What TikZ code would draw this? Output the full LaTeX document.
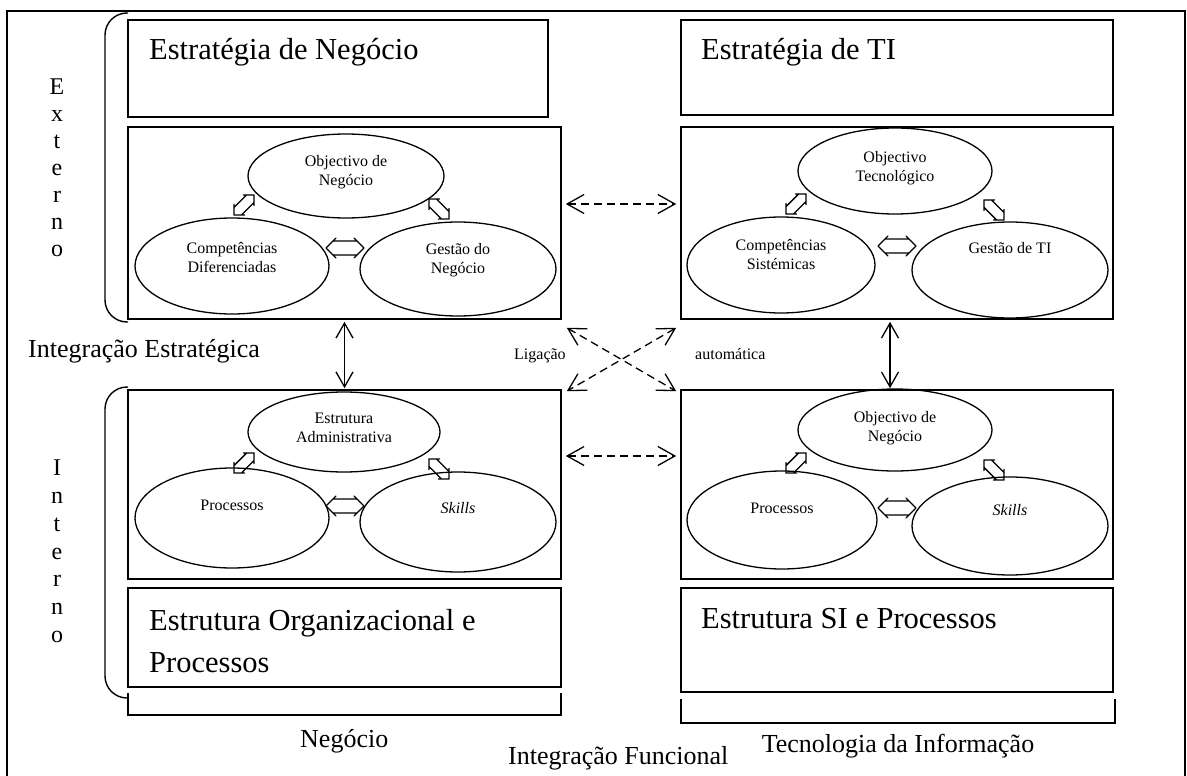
\documentclass[tikz,border=0pt]{standalone}
\usepackage{fontspec}
\setmainfont{Liberation Serif}
\usetikzlibrary{arrows.meta,shapes.geometric}

\tikzset{
  box/.style={draw, line width=1.6pt, inner sep=0pt},
  ell/.style={draw, ellipse, line width=1.3pt, inner sep=0pt},
  elltext/.style={font=\fontsize{16}{19}\selectfont, align=center, inner sep=0pt},
  bigtext/.style={font=\fontsize{30.5}{42}\selectfont, align=left, inner sep=0pt},
  midtext/.style={font=\fontsize{26}{30}\selectfont, inner sep=0pt},
  smalltext/.style={font=\fontsize{16}{19}\selectfont, inner sep=0pt},
  vertext/.style={font=\fontsize{24}{#1}\selectfont, align=center, inner sep=0pt},
  brace/.style={line width=1.4pt, rounded corners=22pt},
  bracket/.style={line width=1.4pt},
  dasharr/.style={line width=1.3pt, dash pattern=on 8pt off 5pt,
    {Straight Barb[length=17pt,width=19pt]}-{Straight Barb[length=17pt,width=19pt]}},
  solidarr/.style={line width=1.3pt,
    {Straight Barb[length=15pt,width=17pt]}-{Straight Barb[length=15pt,width=17pt]}},
  pics/biarrow/.style={code={
    \draw[line width=1.3pt, line cap=round, line join=round]
      (-19,0) -- (-9,-10) (-19,0) -- (-9,10)
      (19,0) -- (9,-10) (19,0) -- (9,10)
      (-12,-7) -- (12,-7) (-12,7) -- (12,7);
  }}
}

\begin{document}
\begin{tikzpicture}[x=1pt,y=-1pt]
\useasboundingbox (0,0) rectangle (1187,776);

% outer frame
\draw[line width=1.5pt] (7,776) -- (7,11) -- (1185,11) -- (1185,776);

% boxes, left column
\node[box, minimum width=420pt, minimum height=97pt]  (tL) at (338,68.5) {};
\node[box, minimum width=433pt, minimum height=192pt] (mL) at (344.5,223) {};
\node[box, minimum width=433pt, minimum height=189pt] (lL) at (344.5,484.5) {};
\node[box, minimum width=433pt, minimum height=99pt]  (bL) at (344.5,637.5) {};
% boxes, right column
\node[box, minimum width=432pt, minimum height=95pt]  (tR) at (897,67.5) {};
\node[box, minimum width=432pt, minimum height=192pt] (mR) at (897,223) {};
\node[box, minimum width=432pt, minimum height=189pt] (lR) at (897,484.5) {};
\node[box, minimum width=432pt, minimum height=104pt] (bR) at (897,640) {};

% box titles
\node[bigtext, anchor=base west] (tLt) at (149,60) {Estratégia de Negócio};
\node[bigtext, anchor=base west] (tRt) at (701,60) {Estratégia de TI};
\node[bigtext, anchor=north west] (bLt) at (149,609) {Estrutura Organizacional e\\Processos};
\node[bigtext, anchor=base west] (bRt) at (701,628) {Estrutura SI e Processos};

% ellipses: business strategy
\node[ell, minimum width=196pt, minimum height=84pt] (on1) at (346,176) {};
\node[ell, minimum width=194pt, minimum height=96pt] (cd)  at (232,266) {};
\node[ell, minimum width=196pt, minimum height=94pt] (gn)  at (458,269) {};
\node[elltext] (on1t) at ([yshift=4pt]on1.center) {Objectivo de\\Negócio};
\node[elltext] (cdt)  at ([yshift=8pt]cd.center) {Competências\\Diferenciadas};
\node[elltext] (gnt)  at ([yshift=9pt]gn.center) {Gestão do\\Negócio};

% ellipses: IT strategy
\node[ell, minimum width=194pt, minimum height=86pt] (ot)  at (895,171) {};
\node[ell, minimum width=188pt, minimum height=96pt] (cs)  at (781,265) {};
\node[ell, minimum width=196pt, minimum height=96pt] (gti) at (1010,270) {};
\node[elltext] (ott)  at ([yshift=3pt]ot.center) {Objectivo\\Tecnológico};
\node[elltext] (cst)  at ([yshift=10pt]cs.center) {Competências\\Sistémicas};
\node[elltext] (gtit) at ([yshift=22pt]gti.center) {Gestão de TI};

% ellipses: organisational structure
\node[ell, minimum width=192pt, minimum height=80pt]  (ea) at (344,432) {};
\node[ell, minimum width=194pt, minimum height=100pt] (p1) at (232,518) {};
\node[ell, minimum width=196pt, minimum height=100pt] (s1) at (458,522) {};
\node[elltext] (eat) at ([yshift=4pt]ea.center) {Estrutura\\Administrativa};
\node[elltext] (p1t) at ([yshift=13pt]p1.center) {Processos};
\node[elltext, font=\fontsize{16}{19}\selectfont\itshape] (s1t) at ([yshift=14pt]s1.center) {Skills};

% ellipses: IS structure
\node[ell, minimum width=194pt, minimum height=82pt] (on2) at (895,430) {};
\node[ell, minimum width=190pt, minimum height=98pt] (p2)  at (782,520) {};
\node[ell, minimum width=196pt, minimum height=98pt] (s2)  at (1010,526) {};
\node[elltext] (on2t) at ([yshift=2pt]on2.center) {Objectivo de\\Negócio};
\node[elltext] (p2t)  at ([yshift=12pt]p2.center) {Processos};
\node[elltext, font=\fontsize{16}{19}\selectfont\itshape] (s2t) at ([yshift=16pt]s2.center) {Skills};

% small two-way arrows between the ellipses
\pic at (345,248) {biarrow};
\pic at (897,246) {biarrow};
\pic at (345,506) {biarrow};
\pic at (897,508) {biarrow};
\pic[rotate=45, scale=0.75]  at (244,205) {biarrow};
\pic[rotate=-45, scale=0.75] at (439,209) {biarrow};
\pic[rotate=45, scale=0.75]  at (796,204) {biarrow};
\pic[rotate=-45, scale=0.75] at (994,210) {biarrow};
\pic[rotate=45, scale=0.75]  at (244,463) {biarrow};
\pic[rotate=-45, scale=0.75] at (439,469) {biarrow};
\pic[rotate=45, scale=0.75]  at (796,463) {biarrow};
\pic[rotate=-45, scale=0.75] at (994,470) {biarrow};

% links between the four domains
\draw[dasharr] ([shift={(4,-19)}]mL.east) -- ([shift={(-4,-19)}]mR.west);
\draw[dasharr] ([shift={(4,-28.5)}]lL.east) -- ([shift={(-4,-28.5)}]lR.west);
\draw[dasharr] ([shift={(5,8)}]mL.south east) -- ([shift={(-4,2)}]lR.north west);
\draw[dasharr] ([shift={(-4,8)}]mR.south west) -- ([shift={(5,2)}]lL.north east);
\draw[solidarr] ([yshift=-2pt]mL.south) -- ([yshift=1pt]lL.north);
\draw[solidarr] ([shift={(-7,2)}]mR.south) -- ([shift={(-7,-1)}]lR.north);

% side braces and bottom brackets
\draw[brace] (128,13) -- (105,13) -- (105,322) -- (128,322);
\draw[brace] (128,387) -- (105,387) -- (105,698) -- (128,698);
\draw[bracket] (128,693) -- (128,715) -- (561,715) -- (561,693);
\draw[bracket] (681,699) -- (681,723) -- (1115,723) -- (1115,699);

% labels
\node[vertext=27, anchor=north] (ext) at (57,79) {E\\x\\t\\e\\r\\n\\o};
\node[vertext=27.7, anchor=north] (int) at (57,460) {I\\n\\t\\e\\r\\n\\o};
\node[midtext, anchor=base west] (ie) at (28,357) {Integração Estratégica};
\node[midtext, anchor=base west] (neg) at (300,747) {Negócio};
\node[midtext, anchor=base west] (ifn) at (508,764) {Integração Funcional};
\node[midtext, anchor=base] (tin) at (898,752) {Tecnologia da Informação};
\node[smalltext, anchor=base west] (lig) at (514,359) {Ligação};
\node[smalltext, anchor=base west] (aut) at (695,359) {automática};
\end{tikzpicture}
\end{document}
